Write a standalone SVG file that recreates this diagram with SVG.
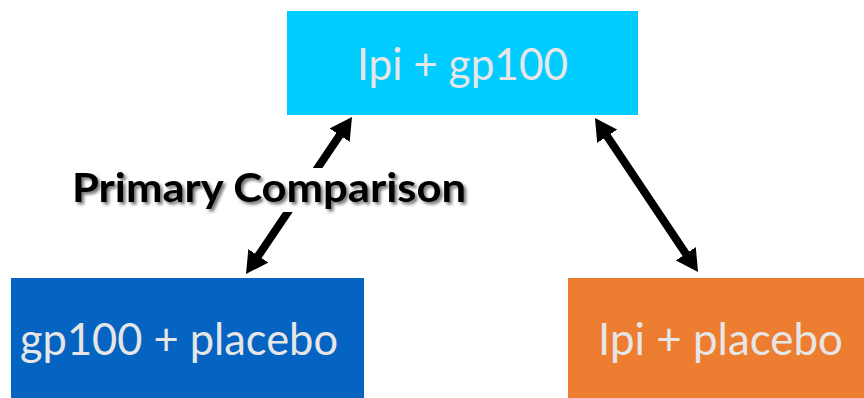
<svg xmlns="http://www.w3.org/2000/svg" width="864" height="398" viewBox="0 0 864 398">
  <style>
    .lbl { font-family: Lato, "Open Sans", "Liberation Sans", sans-serif; font-size: 45px; fill: #E7E6E6; }
    .conn { stroke: #000; stroke-width: 8; fill: none; marker-start: url(#ah); marker-end: url(#ah); }
    .title { font-family: Lato, "Open Sans", "Liberation Sans", sans-serif; font-size: 41px; font-weight: bold; fill: #000; }
  </style>
  <defs>
    <marker id="ah" markerUnits="userSpaceOnUse" markerWidth="22" markerHeight="24" viewBox="0 0 22 24" refX="7" refY="12" orient="auto-start-reverse">
      <path d="M0,0 L22,12 L0,24 z" fill="#000"/>
    </marker>
    <filter id="shadow" x="-10%" y="-30%" width="120%" height="160%">
      <feDropShadow dx="2.5" dy="2.5" stdDeviation="1.8" flood-color="#000" flood-opacity="0.55"/>
    </filter>
  </defs>
  <rect width="864" height="398" fill="#fff"/>

  <g id="connectors">
    <line class="conn" x1="254.4" y1="261.6" x2="343.6" y2="129.4"/>
    <line class="conn" x1="603.3" y1="130.5" x2="689.7" y2="259.5"/>
  </g>

  <g id="node-top">
    <rect x="287" y="11" width="351" height="104" fill="#00CCFF"/>
    <text class="lbl" x="357" y="80" textLength="211" lengthAdjust="spacingAndGlyphs">Ipi + gp100</text>
  </g>

  <g id="node-left">
    <rect x="11" y="278" width="353" height="120" fill="#0563C1"/>
    <text class="lbl" x="20" y="355" textLength="318" lengthAdjust="spacingAndGlyphs">gp100 + placebo</text>
  </g>

  <g id="node-right">
    <rect x="568" y="278" width="296" height="120" fill="#ED7D31"/>
    <text class="lbl" x="598" y="355" textLength="245" lengthAdjust="spacingAndGlyphs">Ipi + placebo</text>
  </g>

  <g id="label-primary">
    <rect x="66" y="168" width="406" height="44" fill="#fff"/>
    <text class="title" x="72" y="202" textLength="394" lengthAdjust="spacingAndGlyphs" filter="url(#shadow)">Primary Comparison</text>
  </g>
</svg>
